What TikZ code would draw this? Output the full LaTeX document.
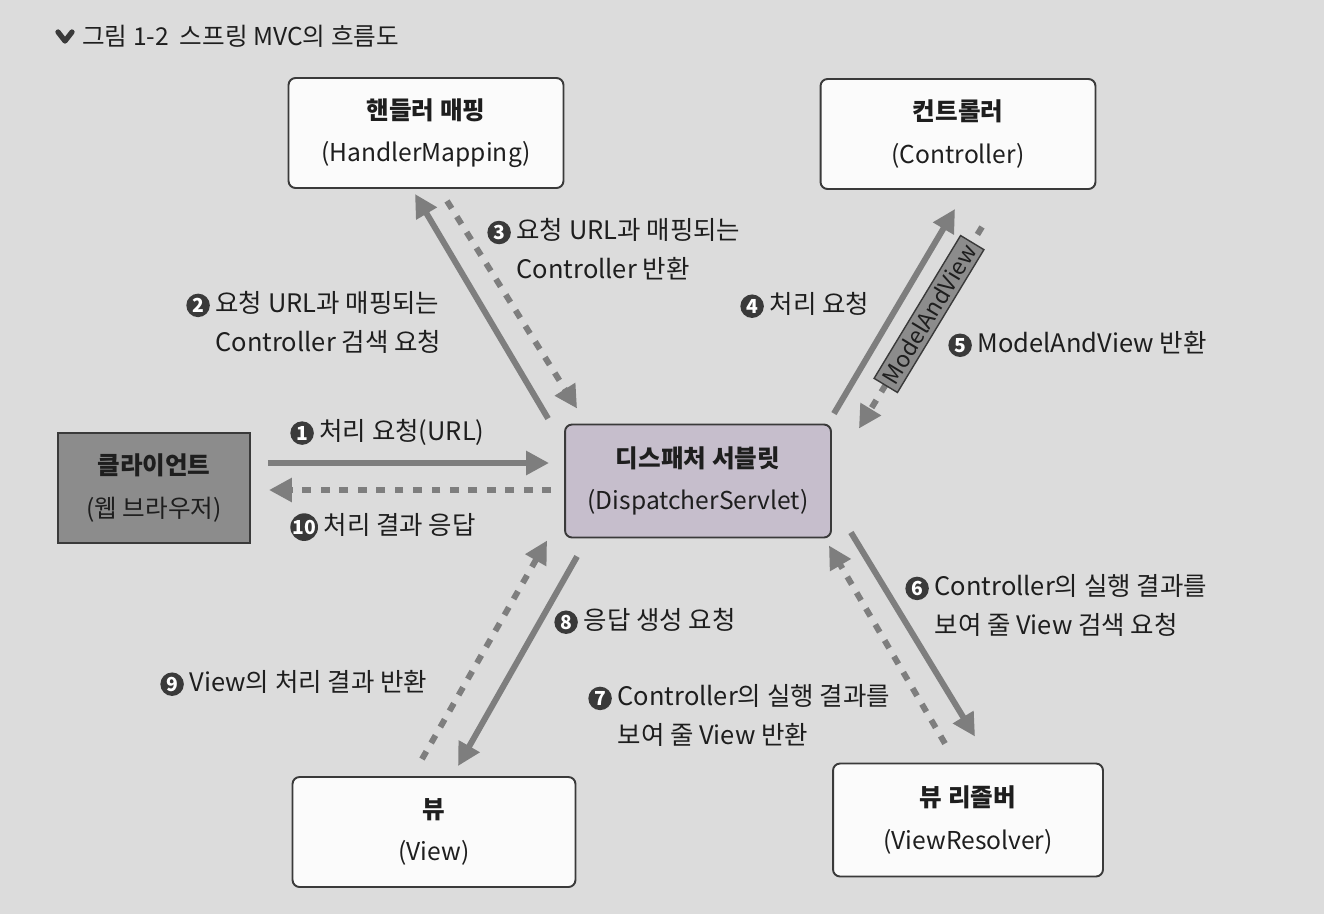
\documentclass[tikz,border=0pt]{standalone}
\usepackage{fontspec}
\setmainfont{Noto Sans CJK KR}
\usetikzlibrary{arrows.meta,calc}

\definecolor{pagegray}{HTML}{DCDCDC}
\definecolor{flowgray}{HTML}{7E7E7E}
\definecolor{boxline}{HTML}{3A3A3A}
\definecolor{dispfill}{HTML}{C6BECC}
\definecolor{clientfill}{HTML}{8C8C8C}
\definecolor{inkgray}{HTML}{1E1E1E}

% circled step number
\newcommand{\stepno}[1]{\tikz[baseline=(c.base)]\node[circle, fill=boxline,
  text=white, inner sep=0pt, minimum size=0.47cm,
  font=\fontsize{11}{11}\selectfont\bfseries] (c) {#1};}

\tikzset{
  box/.style={draw=boxline, line width=1.1pt, rounded corners=4pt,
    fill=white!88!pagegray, minimum width=5.5cm, minimum height=2.2cm,
    align=center, text=inkgray, font=\fontsize{14}{24}\selectfont},
  flow/.style={draw=flowgray, line width=3.4pt,
    -{Triangle[length=13pt,width=13pt]}},
  flowback/.style={flow, dash pattern=on 5pt off 5.5pt},
  lbl/.style={font=\fontsize{14.5}{22}\selectfont, text=inkgray,
    anchor=west, inner sep=0pt, align=left},
  mavtag/.style={draw=boxline, line width=0.8pt, fill=clientfill,
    text=inkgray, font=\fontsize{13}{15}\selectfont, inner sep=2.5pt}
}

\begin{document}
\begin{tikzpicture}[x=0.02cm, y=-0.02cm]
\fill[pagegray] (0,0) rectangle (1324,914);
\useasboundingbox (0,0) rectangle (1324,914);

% title
\draw[boxline, line width=3pt, line cap=round, line join=round]
  (58,32) -- (65,41) -- (72,32);
\node[anchor=west, inner sep=0pt, text=inkgray,
  font=\fontsize{14}{16}\selectfont] (title) at (82,36)
  {그림 1-2\ \ 스프링 MVC의 흐름도};

% boxes
\node[box] (hmap) at (426,133) {\textbf{핸들러 매핑}\\(HandlerMapping)};
\node[box] (ctrl) at (958,134) {\textbf{컨트롤러}\\(Controller)};
\node[box, rounded corners=0pt, fill=clientfill, minimum width=3.84cm]
  (client) at (154,488) {\textbf{클라이언트}\\(웹 브라우저)};
\node[box, fill=dispfill, minimum width=5.32cm, minimum height=2.26cm]
  (disp) at (698,481) {\textbf{디스패처 서블릿}\\(DispatcherServlet)};
\node[box, minimum width=5.66cm] (view) at (434,832) {\textbf{뷰}\\(View)};
\node[box, minimum width=5.4cm, minimum height=2.26cm]
  (vres) at (968,820) {\textbf{뷰 리졸버}\\(ViewResolver)};

% client <-> dispatcher
\draw[flow] ($(client.east)+(17,-25)$) -- ($(disp.west)+(-15,-18)$);
\draw[flowback] ($(disp.west)+(-13,9)$) -- ($(client.east)+(18,2)$);

% dispatcher <-> handler mapping
\draw[flow] ($(disp.north west)+(-16,-5)$) -- ($(hmap.south)+(-11,5)$);
\draw[flowback] ($(hmap.south)+(21,12)$) -- ($(disp.north west)+(13,-15)$);

% dispatcher <-> controller
\draw[flow] ($(disp.north east)+(2,-10)$) -- ($(ctrl.south)+(-3,19)$);
\draw[flowback] ($(ctrl.south)+(24,37)$) -- ($(disp.north east)+(27,5)$);
\node[mavtag, rotate=58.8] (mav) at (929,314) {ModelAndView};

% dispatcher <-> view resolver
\draw[flow] ($(disp.south east)+(19,-6)$) -- ($(vres.north)+(7,-26)$);
\draw[flowback] ($(vres.north)+(-23,-19)$) -- ($(disp.south east)+(-3,7)$);

% dispatcher <-> view
\draw[flow] ($(disp.south west)+(13,18)$) -- ($(view.north)+(24,-10)$);
\draw[flowback] ($(view.north)+(-12,-17)$) -- ($(disp.south west)+(-17,2)$);

% step labels
\node[lbl] (s1) at (290,432) {\stepno{1} 처리 요청(URL)};
\node[lbl] (s10) at (290,527) {\stepno{10} 처리 결과 응답};
\node[lbl, anchor=north west] (s2) at (186,291)
  {\stepno{2} 요청 URL과 매핑되는\\\phantom{\stepno{2} }Controller 검색 요청};
\node[lbl, anchor=north west] (s3) at (487,218)
  {\stepno{3} 요청 URL과 매핑되는\\\phantom{\stepno{3} }Controller 반환};
\node[lbl] (s4) at (740,305) {\stepno{4} 처리 요청};
\node[lbl] (s5) at (948,344) {\stepno{5} ModelAndView 반환};
\node[lbl, anchor=north west] (s6) at (905,574)
  {\stepno{6} Controller의 실행 결과를\\\phantom{\stepno{6} }보여 줄 View 검색 요청};
\node[lbl, anchor=north west] (s7) at (588,684)
  {\stepno{7} Controller의 실행 결과를\\\phantom{\stepno{7} }보여 줄 View 반환};
\node[lbl] (s8) at (554,621) {\stepno{8} 응답 생성 요청};
\node[lbl] (s9) at (160,683) {\stepno{9} View의 처리 결과 반환};
\end{tikzpicture}
\end{document}
